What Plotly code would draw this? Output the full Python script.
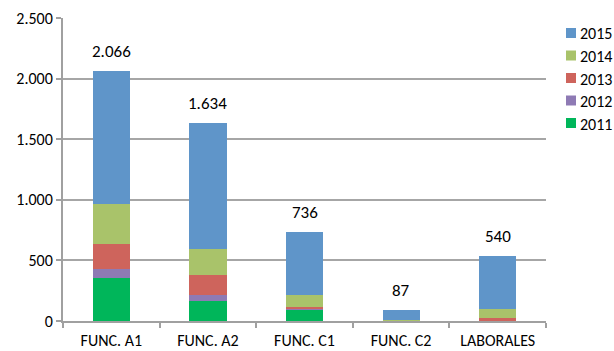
import plotly.graph_objects as go

categories = ["FUNC. A1", "FUNC. A2", "FUNC. C1", "FUNC. C2", "LABORALES"]
years = ["2011", "2012", "2013", "2014", "2015"]
values_2011 = [357, 165, 96, 2, 2]
values_2012 = [72, 46, 3, 1, 1]
values_2013 = [209, 165, 19, 2, 24]
values_2014 = [330, 217, 96, 3, 72]
values_2015 = [1098, 1041, 522, 79, 441]
totals = [2066, 1634, 736, 87, 540]

series = [values_2011, values_2012, values_2013, values_2014, values_2015]
colors = ["#00B65A", "#8E7AB4", "#CE645C", "#A9C36A", "#5F95C9"]

font_family = "Carlito, Lato, 'Open Sans', sans-serif"

W, H = 614, 351
M = dict(l=63, r=68, t=18, b=30)
plot_w = W - M["l"] - M["r"]
plot_h = H - M["t"] - M["b"]


def px_x(px):
    return (px - M["l"]) / plot_w


def px_y(py):
    return (H - M["b"] - py) / plot_h


fig = go.Figure()
for year, vals, col in zip(years, series, colors):
    fig.add_trace(go.Bar(
        x=categories, y=vals, name=year,
        marker=dict(color=col, line=dict(width=0)),
        hoverinfo="skip", showlegend=False,
    ))

# value labels above each stack
for cat, tot in zip(categories, totals):
    fig.add_annotation(
        x=cat, y=tot, text=f"{tot:,}".replace(",", "."),
        showarrow=False, yanchor="bottom", yshift=7,
        font=dict(size=17, color="#000000", family=font_family),
    )

# legend on the right: newest year on top
legend_top, legend_step = 33, 22.5
for k, (year, col) in enumerate(zip(reversed(years), reversed(colors))):
    cy = legend_top + k * legend_step
    fig.add_shape(
        type="rect", xref="paper", yref="paper",
        x0=px_x(566), x1=px_x(576), y0=px_y(cy + 5), y1=px_y(cy - 5),
        fillcolor=col, line=dict(width=0),
    )
    fig.add_annotation(
        xref="paper", yref="paper", x=px_x(578), y=px_y(cy + 1),
        text=year, showarrow=False, xanchor="left", yanchor="middle",
        font=dict(size=16, color="#000000", family=font_family),
    )

fig.update_layout(
    width=W, height=H,
    barmode="stack", bargap=0.615,
    separators=",.",
    paper_bgcolor="white", plot_bgcolor="white",
    margin=dict(**M, autoexpand=False),
    font=dict(family=font_family, color="#000000"),
    showlegend=False,
)

fig.update_xaxes(
    showline=True, linecolor="#A0A0A0", linewidth=2,
    ticks="outside", tickson="boundaries", ticklen=5, tickcolor="#A0A0A0", tickwidth=2,
    tickfont=dict(size=16, family=font_family),
    ticklabelstandoff=4,
    showgrid=False,
)
fig.update_yaxes(
    range=[0, 2500], dtick=500, tickformat=",d",
    showline=True, linecolor="#A0A0A0", linewidth=2,
    ticks="outside", ticklen=5, tickcolor="#A0A0A0", tickwidth=2,
    showgrid=True, gridcolor="#A6A6A6", gridwidth=2,
    tickfont=dict(size=16, family=font_family),
    zeroline=False,
)

fig.write_html("out.html")
